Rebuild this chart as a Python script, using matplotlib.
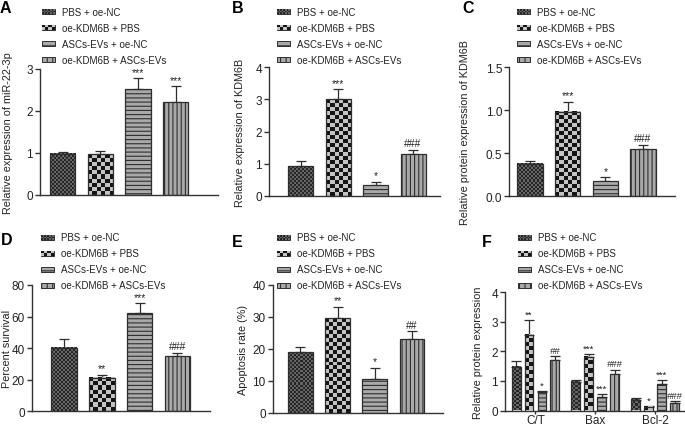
import numpy as np
import matplotlib
matplotlib.use('Agg')
import matplotlib.pyplot as plt
from matplotlib.colors import to_rgb
from matplotlib.image import BboxImage
from matplotlib.patches import Rectangle
from matplotlib.transforms import Bbox, TransformedBbox

plt.rcParams['font.family'] = ['Liberation Sans', 'DejaVu Sans']
plt.rcParams['hatch.linewidth'] = 0.8

W, H = 685, 427

# ---- data ----
groups = ['PBS + oe-NC', 'oe-KDM6B + PBS', 'ASCs-EVs + oe-NC', 'oe-KDM6B + ASCs-EVs']

mir_vals = [0.98, 0.97, 2.52, 2.22]
mir_err = [0.05, 0.08, 0.26, 0.37]
mir_sig = ['', '', '***', '***']

kdm_vals = [0.93, 3.01, 0.33, 1.30]
kdm_err = [0.14, 0.31, 0.11, 0.13]
kdm_sig = ['', '***', '*', '###']

kdmp_vals = [0.38, 0.98, 0.18, 0.55]
kdmp_err = [0.03, 0.12, 0.04, 0.05]
kdmp_sig = ['', '***', '*', '###']

surv_vals = [40, 21, 62, 35]
surv_err = [5.5, 2.0, 6.4, 2.1]
surv_sig = ['', '**', '***', '###']

apo_vals = [19.0, 29.6, 10.6, 23.1]
apo_err = [1.5, 3.6, 3.5, 2.4]
apo_sig = ['', '**', '*', '##']

prot_cats = ['C/T', 'Bax', 'Bcl-2']
prot_vals = [[1.46, 0.96, 0.36],   # PBS + oe-NC
             [2.54, 1.82, 0.11],   # oe-KDM6B + PBS
             [0.62, 0.47, 0.89],   # ASCs-EVs + oe-NC
             [1.70, 1.23, 0.25]]   # oe-KDM6B + ASCs-EVs
prot_err = [[0.22, 0.06, 0.05],
            [0.52, 0.09, 0.05],
            [0.05, 0.10, 0.13],
            [0.13, 0.15, 0.07]]
prot_sig = [['', '', ''],
            ['**', '***', '*'],
            ['*', '***', '***'],
            ['##', '###', '###']]

# ---- styles ----
EDGE = '#2e2e2e'
styles = [
    dict(kind='checker', sq=2.0, c1='#262626', c2='#666666'),
    dict(kind='checker', sq=4.0, c1='#141414', c2='#c4c4c4'),
    dict(kind='hatch', face='#a9a9a9', hatch='----'),
    dict(kind='hatch', face='#a9a9a9', hatch='||||'),
]


def checker_image(x0, y0, w, h, trans, sq, c1, c2, z):
    p0 = trans.transform((x0, y0))
    p1 = trans.transform((x0 + w, y0 + h))
    nx = max(1, int(round(abs(p1[0] - p0[0]) / sq)))
    ny = max(1, int(round(abs(p1[1] - p0[1]) / sq)))
    a = np.add.outer(np.arange(ny), np.arange(nx)) % 2
    rgb = np.where(a[..., None] == 0, np.array(to_rgb(c1)), np.array(to_rgb(c2)))
    im = BboxImage(TransformedBbox(Bbox.from_bounds(x0, y0, w, h), trans),
                   interpolation='nearest', zorder=z)
    im.set_data(rgb)
    return im


def plot_group(ax, xs, vals, errs, sigs, k, width, ymax, italic_hash=False, fs=7.5):
    st = styles[k]
    if st['kind'] == 'hatch':
        ax.bar(xs, vals, width, color=st['face'], edgecolor=EDGE, hatch=st['hatch'],
               lw=0.9, zorder=2)
    else:
        bars = ax.bar(xs, vals, width, color='none', edgecolor=EDGE, lw=0.9, zorder=2.2)
        for b in bars:
            ax.add_artist(checker_image(b.get_x(), 0, b.get_width(), b.get_height(),
                                        ax.transData, st['sq'], st['c1'], st['c2'], 2))
    ax.errorbar(xs, vals, yerr=[np.zeros(len(vals)), errs], fmt='none', ecolor=EDGE,
                elinewidth=0.9, capsize=3.3, capthick=0.9, zorder=1.5)
    for x, v, e, s in zip(xs, vals, errs, sigs):
        if s:
            italic = italic_hash and s.startswith('#')
            ax.text(x, v + e + 0.012 * ymax, s, ha='center', va='bottom', fontsize=fs,
                    style='italic' if italic else 'normal', color='#222222')


fig = plt.figure(figsize=(W / 100, H / 100), dpi=100)


def px_axes(left, right, top, bottom):
    return fig.add_axes([left / W, 1 - bottom / H, (right - left) / W, (bottom - top) / H])


def style_axes(ax):
    for s in ['top', 'right']:
        ax.spines[s].set_visible(False)
    for s in ['left', 'bottom']:
        ax.spines[s].set_color('#333333')
        ax.spines[s].set_linewidth(1.0)
    ax.tick_params(axis='y', length=3.5, width=1.0, color='#333333', labelsize=8.5,
                   labelcolor='#222222', pad=1.5)
    ax.tick_params(axis='x', length=0, labelbottom=False)


def legend(x, y):
    # x: patch left, y: first entry centre (pixels)
    for k, name in enumerate(groups):
        yc = y + k * 16
        fx, fy, fw, fh = x / W, 1 - (yc + 2.5) / H, 13 / W, 5 / H
        st = styles[k]
        if st['kind'] == 'hatch':
            hatch = '--' if k == 2 else '|||'
            fig.add_artist(Rectangle((fx, fy), fw, fh, transform=fig.transFigure,
                                     facecolor=st['face'], edgecolor=EDGE, hatch=hatch,
                                     lw=0.7))
        else:
            fig.add_artist(checker_image(fx, fy, fw, fh, fig.transFigure,
                                         st['sq'] * 0.8, st['c1'], st['c2'], 3))
            fig.add_artist(Rectangle((fx, fy), fw, fh, transform=fig.transFigure,
                                     facecolor='none', edgecolor=EDGE, lw=0.7))
        fig.text((x + 20) / W, 1 - yc / H, name, fontsize=7, va='center', ha='left',
                 color='#222222')


def ylabel(x, y, text):
    fig.text(x / W, 1 - y / H, text, rotation=90, ha='center', va='center', fontsize=7.8,
             color='#222222')


def letter(x, y, text):
    fig.text(x / W, 1 - y / H, text, fontsize=11.5, fontweight='bold', ha='left', va='top')


single = [
    # data, errors, sig, axes px (l, r, t, b), xlim, ymax, ticks, fmt, ylabel, label x, legend, letter
    (mir_vals, mir_err, mir_sig, (40, 218, 70, 196), (-0.61, 4.13), 3, [0, 1, 2, 3], '%d',
     'Relative expression of miR-22-3p', 8, (42, 12.5), (0, 1), 'A'),
    (kdm_vals, kdm_err, kdm_sig, (269, 440, 68.3, 196.7), (-0.85, 3.72), 4, [0, 1, 2, 3, 4], '%d',
     'Relative expression of KDM6B', 240, (277, 12.5), (232, 1), 'B'),
    (kdmp_vals, kdmp_err, kdmp_sig, (509, 675, 68.3, 197.3), (-0.56, 3.85), 1.5,
     [0, 0.5, 1.0, 1.5], '%.1f', 'Relative protein expression of KDM6B', 465, (517, 12.5),
     (462, 1), 'C'),
    (surv_vals, surv_err, surv_sig, (32, 210, 286, 412.3), (-0.85, 3.86), 80,
     [0, 20, 40, 60, 80], '%d', 'Percent survival', 7, (41, 238.3), (1, 233), 'D'),
    (apo_vals, apo_err, apo_sig, (272.7, 443.3, 286, 414), (-0.74, 3.84), 40,
     [0, 10, 20, 30, 40], '%d', 'Apoptosis rate (%)', 243, (277, 238.3), (232, 235), 'E'),
]

for (vals, errs, sigs, box, xlim, ymax, ticks, fmt, ylab, lx, leg, let, name) in single:
    ax = px_axes(*box)
    ax.set_xlim(*xlim)
    ax.set_ylim(0, ymax)
    ax.set_yticks(ticks)
    ax.set_yticklabels([fmt % t for t in ticks])
    style_axes(ax)
    for k in range(4):
        plot_group(ax, [k], [vals[k]], [errs[k]], [sigs[k]], k, 0.67, ymax)
    ylabel(lx, (box[2] + box[3]) / 2, ylab)
    legend(*leg)
    letter(*let, name)

# panel F: grouped
ax = px_axes(505, 685, 293.3, 411.5)
ax.set_xlim(-0.51, 2.5)
ax.set_ylim(0, 4)
ax.set_yticks([0, 1, 2, 3, 4])
style_axes(ax)
ax.tick_params(axis='x', length=2.5, width=1.0, color='#333333', labelbottom=True,
               labelsize=8.5, labelcolor='#222222', pad=0.3)
cat_x = np.arange(len(prot_cats))
ax.set_xticks(cat_x)
ax.set_xticklabels(prot_cats)
for k in range(4):
    plot_group(ax, cat_x + (k - 1.5) * 0.217, prot_vals[k], prot_err[k], prot_sig[k], k,
               0.15, 4, italic_hash=True, fs=6.8)
ylabel(478, (293.3 + 412.3) / 2, 'Relative protein expression')
legend(518, 238.3)
letter(482, 235, 'F')

fig.savefig('out.png', dpi=100)
